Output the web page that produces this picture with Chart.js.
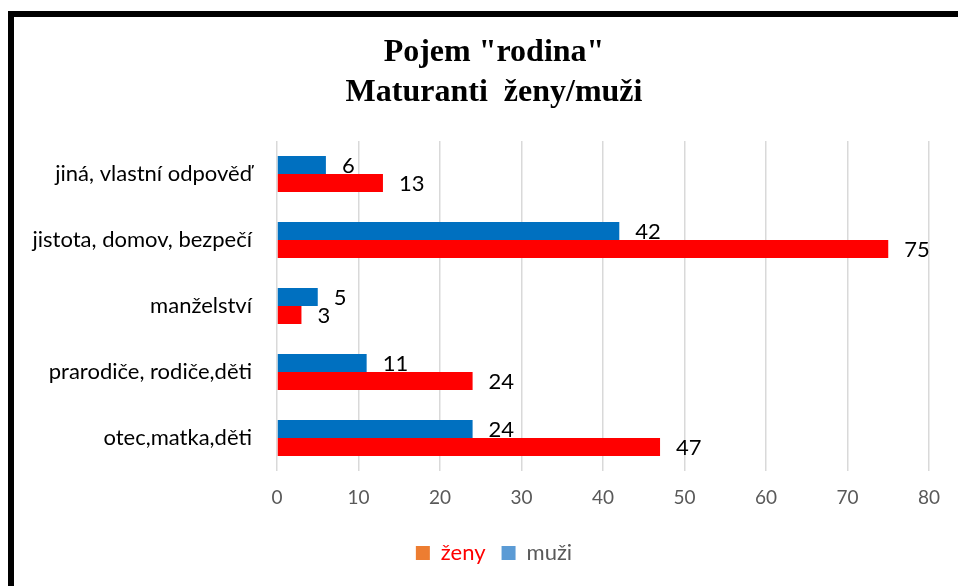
<!DOCTYPE html>
<html>
<head>
<meta charset="utf-8">
<script src="https://cdn.jsdelivr.net/npm/chart.js@4/dist/chart.umd.min.js"></script>
<style>
html,body{margin:0;padding:0;background:#fff;overflow:hidden;}
#wrap{position:relative;width:958px;height:586px;overflow:hidden;}
canvas{display:block;}
</style>
</head>
<body>
<div id="wrap"><canvas id="c" width="988" height="586"></canvas></div>
<script>
const categories = ["jiná, vlastní odpověď", "jistota, domov, bezpečí", "manželství", "prarodiče, rodiče,děti", "otec,matka,děti"];
const muzi = [6, 42, 5, 11, 24];
const zeny = [13, 75, 3, 24, 47];
const xTicks = [0, 10, 20, 30, 40, 50, 60, 70, 80];
const titleLines = ['Pojem "rodina"', 'Maturanti  ženy/muži'];

const frame = {
  id: 'frame',
  beforeDraw(chart) {
    const ctx = chart.ctx;
    ctx.save();
    ctx.fillStyle = '#fff';
    ctx.fillRect(0, 0, chart.width, chart.height);
    ctx.fillStyle = '#000';
    ctx.fillRect(8, 11, chart.width - 8, 6);
    ctx.fillRect(8, 11, 6, chart.height - 11);
    ctx.restore();
  }
};

const valueLabels = {
  id: 'valueLabels',
  beforeDatasetsDraw(chart) {
    const ctx = chart.ctx;
    ctx.save();
    ctx.font = '22px Lato';
    ctx.fillStyle = '#000';
    ctx.textAlign = 'left';
    ctx.textBaseline = 'middle';
    chart.data.datasets.forEach((ds, di) => {
      const meta = chart.getDatasetMeta(di);
      meta.data.forEach((el, i) => {
        ctx.fillText(String(ds.data[i]), el.x + 16, el.y + 1);
      });
    });
    ctx.restore();
  }
};

new Chart(document.getElementById('c'), {
  type: 'bar',
  data: {
    labels: categories,
    datasets: [
      { label: 'muži', data: muzi, yAxisID: 'y', backgroundColor: '#0070C0', legendColor: '#5B9BD5', legendText: '#595959' },
      { label: 'ženy', data: zeny, yAxisID: 'y', backgroundColor: '#FF0000', legendColor: '#ED7D31', legendText: '#FF0000' }
    ]
  },
  options: {
    responsive: false,
    animation: false,
    indexAxis: 'y',
    categoryPercentage: 0.545,
    barPercentage: 1,
    layout: { padding: { left: 30, right: 30, top: 10, bottom: 12 } },
    plugins: {
      title: {
        display: true,
        text: titleLines,
        color: '#000',
        font: { family: '"Liberation Serif", "Times New Roman", serif', size: 32, weight: 'bold', lineHeight: 1.25 },
        padding: { top: 23, bottom: 28 }
      },
      legend: {
        position: 'bottom',
        reverse: true,
        labels: {
          boxWidth: 14,
          boxHeight: 14,
          padding: 16,
          font: { family: 'Lato', size: 22 },
          generateLabels(chart) {
            return chart.data.datasets.map((ds, i) => ({
              text: ds.label,
              fillStyle: ds.legendColor,
              strokeStyle: ds.legendColor,
              lineWidth: 0,
              fontColor: ds.legendText,
              hidden: false,
              datasetIndex: i
            }));
          }
        }
      },
      tooltip: { enabled: false }
    },
    scales: {
      x: {
        min: 0, max: 80,
        afterBuildTicks(scale) { scale.ticks = xTicks.map(v => ({ value: v })); },
        afterFit(scale) { scale.height = 55; },
        grid: { color: '#d9d9d9', lineWidth: 1.5, drawTicks: false },
        border: { display: false },
        ticks: { color: '#595959', font: { family: 'Lato', size: 19 }, padding: 15 }
      },
      y: {
        afterFit(scale) { scale.width = 247; },
        grid: { display: false, drawTicks: false },
        border: { display: false },
        ticks: { color: '#000', font: { family: 'Lato', size: 22 }, padding: 25 }
      },
      y2: {
        type: 'linear',
        position: 'right',
        display: true,
        afterFit(scale) { scale.width = 29; },
        grid: { display: false, drawTicks: false },
        border: { display: false },
        ticks: { display: false }
      }
    }
  },
  plugins: [frame, valueLabels]
});
</script>
</body>
</html>
